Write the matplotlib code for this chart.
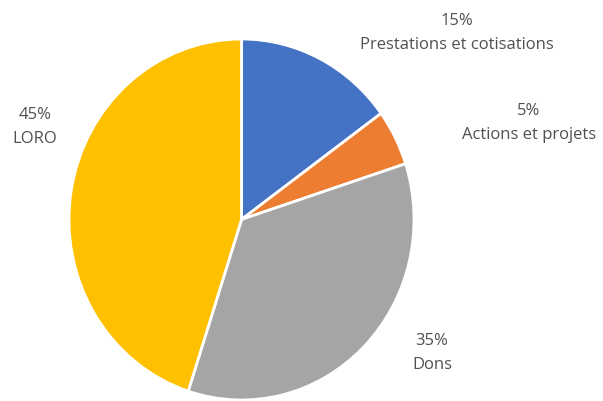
import matplotlib
matplotlib.use("Agg")
import matplotlib.pyplot as plt

labels = ["Prestations et cotisations", "Actions et projets", "Dons", "LORO"]
values = [15, 5, 35, 45]
colors = ["#4472C4", "#ED7D31", "#A5A5A5", "#FFC000"]
label_pos = [(457, 33), (529, 123), (432, 353), (35, 127)]

W, H = 603, 401
fig = plt.figure(figsize=(W / 100, H / 100), dpi=100)

# text layer in pixel coordinates
tx = fig.add_axes([0, 0, 1, 1])
tx.set_xlim(0, W)
tx.set_ylim(H, 0)
tx.axis("off")

# pie box (slightly taller than wide, as in the reference)
left, right, top, bottom = 69, 414, 39, 400
ax = fig.add_axes([left / W, 1 - bottom / H, (right - left) / W, (bottom - top) / H])
ax.pie(values, colors=colors, startangle=90, counterclock=False, radius=1,
       wedgeprops=dict(edgecolor="white", linewidth=2))
ax.set_aspect("auto")
ax.set_xlim(-1, 1)
ax.set_ylim(-1, 1)
ax.axis("off")

for lab, v, (x, y) in zip(labels, values, label_pos):
    tx.text(x, y, f"{v}%\n{lab}", ha="center", va="center",
            fontsize=12, color="#505050", family="Open Sans", linespacing=1.6)

fig.savefig("out.png", dpi=100)
